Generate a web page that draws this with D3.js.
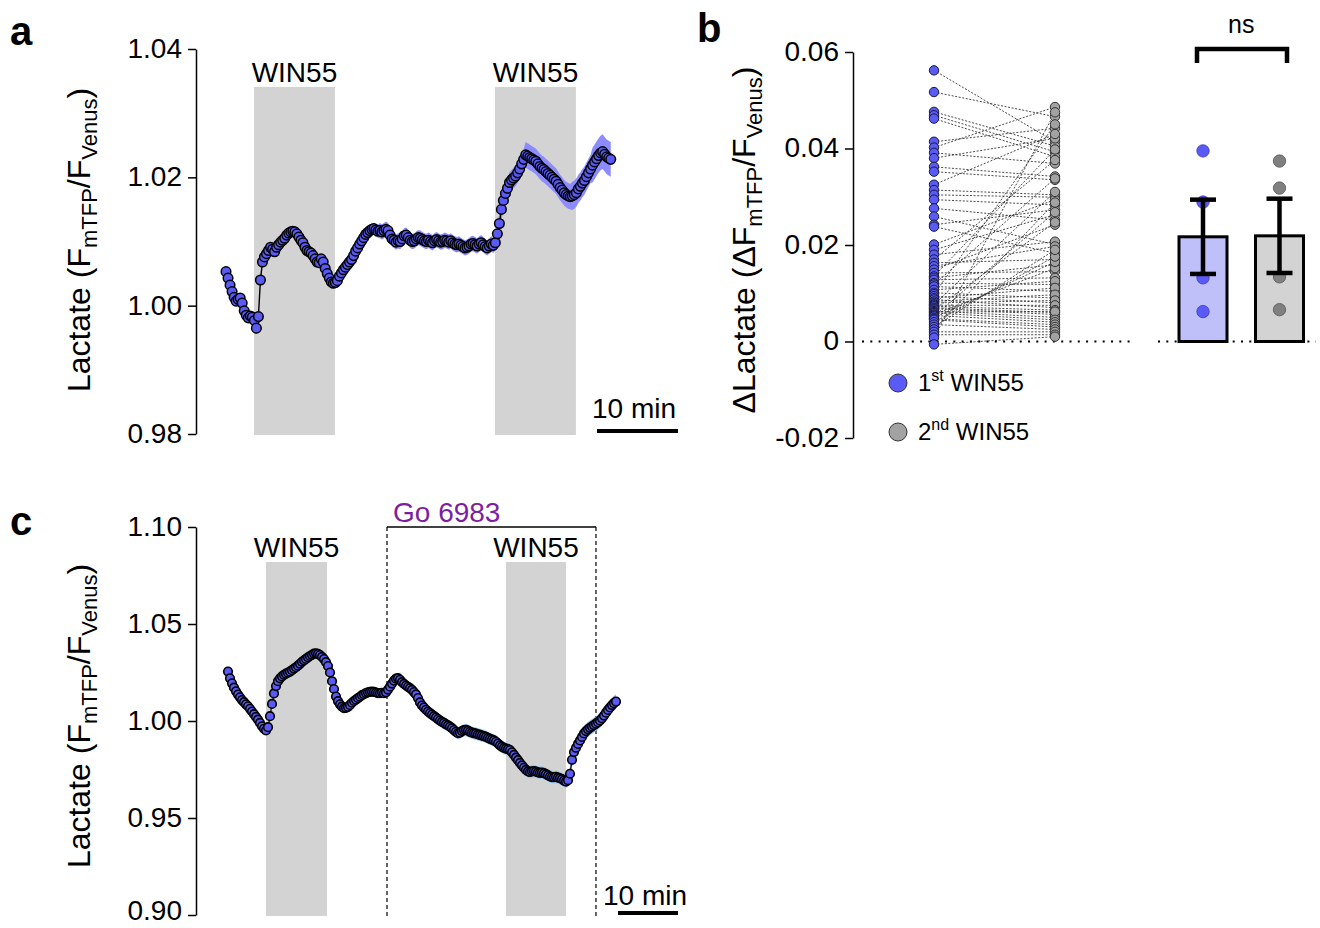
<!DOCTYPE html>
<html><head><meta charset="utf-8">
<script src="https://cdn.jsdelivr.net/npm/d3@7"></script>
<style>
body{margin:0;background:#fff}
svg{font-family:"Liberation Sans",Arial,Helvetica,sans-serif}
</style></head><body>
<svg id="chart" width="1320" height="928"></svg>
<script>
// ---------------- DATA ----------------
// Panel a: lactate ratio trace, one sample every 0.25 min
const dtA = 0.25;
const lactateA = [
1.0053,1.0043,1.0032,1.0022,1.0013,1.0007,1.0010,1.0012,1.0004,0.9992,
0.9985,0.9981,0.9984,0.9982,0.9977,0.9965,0.9983,1.0040,1.0068,1.0076,
1.0081,1.0086,1.0091,1.0088,1.0084,1.0091,1.0095,1.0099,1.0102,1.0105,
1.0110,1.0113,1.0115,1.0116,1.0115,1.0112,1.0107,1.0102,1.0098,1.0091,
1.0086,1.0084,1.0082,1.0078,1.0073,1.0068,1.0067,1.0073,1.0068,1.0058,
1.0050,1.0043,1.0037,1.0035,1.0036,1.0039,1.0046,1.0051,1.0056,1.0060,
1.0064,1.0068,1.0072,1.0078,1.0085,1.0090,1.0096,1.0101,1.0106,1.0111,
1.0114,1.0117,1.0119,1.0120,1.0118,1.0116,1.0117,1.0115,1.0117,1.0119,
1.0117,1.0110,1.0104,1.0102,1.0099,1.0101,1.0100,1.0104,1.0109,1.0110,
1.0106,1.0102,1.0100,1.0101,1.0104,1.0106,1.0105,1.0103,1.0101,1.0100,
1.0102,1.0100,1.0098,1.0101,1.0103,1.0101,1.0099,1.0100,1.0102,1.0101,
1.0099,1.0101,1.0098,1.0096,1.0095,1.0096,1.0094,1.0092,1.0090,1.0091,
1.0093,1.0096,1.0097,1.0095,1.0093,1.0096,1.0098,1.0095,1.0092,1.0090,
1.0093,1.0096,1.0094,1.0098,1.0112,1.0128,1.0150,1.0164,1.0175,1.0183,
1.0192,1.0196,1.0199,1.0202,1.0207,1.0213,1.0221,1.0228,1.0235,1.0233,
1.0231,1.0229,1.0227,1.0225,1.0221,1.0217,1.0214,1.0212,1.0209,1.0206,
1.0203,1.0200,1.0197,1.0194,1.0189,1.0184,1.0180,1.0176,1.0173,1.0171,
1.0170,1.0171,1.0173,1.0176,1.0182,1.0186,1.0191,1.0195,1.0201,1.0207,
1.0213,1.0219,1.0224,1.0229,1.0234,1.0238,1.0240,1.0236,1.0232,1.0230,1.0228
];
// SEM of panel a trace, in units of 1e-4
const semA_e4 = [
2,2,2,2,2,2,2,2,2,2, 2,2,2,2,2,2,2,2,2,2, 2,2,2,2,2,2,2,2,2,2,
2,2,2,2,2,2,2,2,2,2, 2,2,2,2,2,2,2,2,2,2, 2,2,2,2,2,2,5,5,5,5,
5,5,5,5,6,6,8,8,8,8, 8,8,9,9,9,10,12,12,12,12,
12,12,12,12,12,12,12,12,12,12, 12,12,12,12,12,12,12,12,12,12,
12,12,12,12,12,12,12,12,12,12, 12,12,12,12,12,12,12,12,12,12,
12,12,12,12,12,12,12,12,12,12, 12,12,12,12,16,16,16,16,16,16,
16,16,16,16,16,16,16,16,20,20, 20,20,20,20,20,20,20,20,20,20,
20,20,20,20,20,20,20,20,20,20, 20,22,22,22,22,22,22,22,22,22,
22,27,27,27,27,27,27,27,27,27,27
];
const winA = [[3.45, 13.45], [33.2, 43.2]];   // WIN55 applications (min)
const scaleBarA = [45.8, 55.8];                // 10 min
const ticksA = [0.98, 1.00, 1.02, 1.04];

// Panel b: paired responses
const groups = ["1st WIN55", "2nd WIN55"];
const deltaFirst = [
0.0562,0.0517,0.0476,0.0469,0.0462,0.0414,0.0402,0.0391,0.0380,0.0362,
0.0352,0.0325,0.0314,0.0304,0.0294,0.0276,0.0259,0.0242,0.0238,0.0201,
0.0190,0.0180,0.0170,0.0163,0.0156,0.0149,0.0142,0.0135,0.0132,0.0128,
0.0121,0.0118,0.0114,0.0107,0.0101,0.0098,0.0094,0.0090,0.0087,0.0083,
0.0080,0.0077,0.0075,0.0073,0.0070,0.0068,0.0066,0.0063,0.0061,0.0059,
0.0056,0.0054,0.0052,0.0049,0.0047,0.0045,0.0040,0.0035,0.0030,0.0025,
0.0020,0.0014,0.0008,-0.0006
];
const deltaSecond = [
0.0414,0.0466,0.0405,0.0393,0.0383,0.0442,0.0486,0.0369,0.0421,0.0342,
0.0335,0.0430,0.0304,0.0299,0.0283,0.0252,0.0201,0.0273,0.0183,0.0294,
0.0263,0.0207,0.0376,0.0170,0.0197,0.0242,0.0145,0.0398,0.0159,0.0132,
0.0118,0.0338,0.0104,0.0125,0.0090,0.0450,0.0080,0.0111,0.0070,0.0097,
0.0085,0.0310,0.0075,0.0065,0.0060,0.0056,0.0247,0.0050,0.0062,0.0045,
0.0152,0.0040,0.0268,0.0165,0.0035,0.0030,0.0176,0.0025,0.0190,0.0288,
0.0020,0.0014,0.0475,0.0010
];
const expFirst = [0.0395, 0.0289, 0.0132, 0.0062];
const expSecond = [0.0374, 0.0318, 0.0134, 0.0066];
const barMeans = [0.0217, 0.0219];
const barSems = [0.0077, 0.0077];
const ticksB = [-0.02, 0, 0.02, 0.04, 0.06];
const sigLabel = "ns";

// Panel c: lactate ratio trace, one sample every 1/3 min
const dtC = 1 / 3;
const lactateC = [
1.0255,1.0220,1.0194,1.0172,1.0153,1.0136,1.0122,1.0108,1.0097,1.0086,
1.0076,1.0063,1.0049,1.0035,1.0021,1.0007,0.9990,0.9973,0.9960,0.9951,
0.9968,1.0025,1.0088,1.0142,1.0180,1.0205,1.0220,1.0230,1.0238,1.0244,
1.0249,1.0254,1.0262,1.0270,1.0277,1.0285,1.0295,1.0305,1.0313,1.0320,
1.0328,1.0335,1.0341,1.0347,1.0349,1.0346,1.0340,1.0330,1.0319,1.0303,
1.0283,1.0250,1.0205,1.0165,1.0126,1.0102,1.0086,1.0074,1.0066,1.0068,
1.0073,1.0083,1.0094,1.0103,1.0110,1.0118,1.0125,1.0133,1.0138,1.0144,
1.0148,1.0150,1.0151,1.0150,1.0147,1.0144,1.0143,1.0145,1.0143,1.0148,
1.0162,1.0177,1.0193,1.0208,1.0218,1.0221,1.0212,1.0200,1.0191,1.0183,
1.0176,1.0169,1.0160,1.0149,1.0137,1.0118,1.0096,1.0080,1.0069,1.0058,
1.0049,1.0041,1.0033,1.0025,1.0018,1.0010,1.0002,0.9995,0.9990,0.9983,
0.9977,0.9971,0.9963,0.9953,0.9944,0.9937,0.9940,0.9948,0.9953,0.9954,
0.9950,0.9944,0.9940,0.9937,0.9935,0.9931,0.9928,0.9925,0.9922,0.9918,
0.9913,0.9908,0.9904,0.9900,0.9893,0.9884,0.9874,0.9867,0.9861,0.9858,
0.9855,0.9850,0.9839,0.9825,0.9811,0.9798,0.9784,0.9771,0.9759,0.9748,
0.9740,0.9737,0.9741,0.9742,0.9739,0.9735,0.9733,0.9734,0.9731,0.9726,
0.9720,0.9714,0.9711,0.9710,0.9712,0.9708,0.9705,0.9700,0.9693,0.9688,
0.9695,0.9728,0.9800,0.9840,0.9862,0.9882,0.9900,0.9918,0.9936,0.9948,
0.9957,0.9965,0.9972,0.9979,0.9986,0.9994,1.0003,1.0014,1.0028,1.0043,
1.0057,1.0070,1.0082,1.0092,1.0100
];
const semC_e4 = [
15,15,15,15,15,15,15,15,15,15, 15,15,15,15,15,15,15,15,15,15,
15,15,15,15,15,15,15,15,15,15, 15,15,15,15,15,15,15,15,15,15,
15,15,15,15,15,15,15,15,15,15, 15,15,15,15,15,15,15,15,15,15,
15,15,15,15,15,15,15,15,15,15, 15,15,15,15,15,15,15,15,15,15,
15,15,15,15,15,15,15,15,15,15, 15,32,32,32,32,32,32,32,32,32,
32,32,32,32,32,32,32,32,32,32, 32,32,32,32,32,32,32,32,32,32,
32,32,32,32,32,32,32,32,32,32, 32,32,32,32,32,32,32,32,32,32,
32,32,32,32,32,32,32,32,32,32, 32,32,32,32,32,32,32,32,32,32,
32,32,32,32,32,32,32,32,32,32, 32,38,38,38,38,38,38,38,38,38,
38,38,38,38,38,38,38,38,38,38, 38,38,38,38,38
];
const winC = [[6.33, 16.5], [46.33, 56.33]];
const drugC = [26.5, 61.33];
const drugLabel = "Go 6983";
const scaleBarC = [65, 75];
const ticksC = [0.90, 0.95, 1.00, 1.05, 1.10];

// ---------------- STYLE ----------------
const FONT = '"Liberation Sans", Arial, Helvetica, sans-serif';
const BLUE = "#5a5af5", BAND_A = "#8c8cff", BAND_C = "#93c6f6";
const SHADE = "#d3d3d3", GREY_PT = "#a2a2a2", BAR_BLUE = "#bfbffa", BAR_GREY = "#d3d3d3";
const PURPLE = "#7b1fa2";

const svg = d3.select("#chart");

function drawAxis(scale, x, ticks, fmt) {
  const ax = d3.axisLeft(scale).tickValues(ticks).tickFormat(fmt)
    .tickSize(8).tickSizeOuter(0).tickPadding(6);
  const a = svg.append("g").attr("transform", `translate(${x},0)`).call(ax)
    .attr("font-size", 28).attr("font-family", FONT);
  a.select(".domain").attr("stroke", "#000").attr("stroke-width", 1.5);
  a.selectAll(".tick line").attr("stroke", "#000").attr("stroke-width", 1.5);
  // keep the lowest label inside the page
  a.selectAll(".tick text").attr("fill", "#000")
    .attr("dy", d => scale(d) > 905 ? "0.16em" : "0.3em");
  return a;
}
function yLabel(x, y, parts) {
  const t = svg.append("text").attr("transform", `translate(${x},${y}) rotate(-90)`)
    .attr("text-anchor", "middle").attr("font-size", 32).attr("fill", "#000");
  let low = false;
  parts.forEach(([s, sub]) => {
    const ts = t.append("tspan").text(s);
    if (sub) { ts.attr("font-size", 22); if (!low) { ts.attr("dy", 7); low = true; } }
    else if (low) { ts.attr("dy", -7); low = false; }
  });
}
function label(x, y, s, size, opts = {}) {
  return svg.append("text").attr("x", x).attr("y", y).attr("font-size", size)
    .attr("fill", opts.fill || "#000").attr("font-weight", opts.bold ? "bold" : null)
    .attr("text-anchor", opts.anchor || "start").text(s);
}
function trace(data, sem_e4, dt, xs, ys, r, bandColor, lineW, sw) {
  const pts = data.map((v, i) => ({ t: i * dt, v, s: sem_e4[i] * 1e-4 }));
  svg.append("path").datum(pts).attr("fill", bandColor)
    .attr("d", d3.area().x(d => xs(d.t)).y0(d => ys(d.v - d.s)).y1(d => ys(d.v + d.s)));
  svg.append("path").datum(pts).attr("fill", "none").attr("stroke", "#000").attr("stroke-width", lineW)
    .attr("d", d3.line().x(d => xs(d.t)).y(d => ys(d.v)));
  svg.append("g").selectAll("circle").data(pts).join("circle")
    .attr("cx", d => xs(d.t)).attr("cy", d => ys(d.v)).attr("r", r)
    .attr("fill", BLUE).attr("stroke", "#000").attr("stroke-width", sw);
}

// ---------------- PANEL A ----------------
const xA = d3.scaleLinear().domain([0, 50]).range([226, 631]);
const yA = d3.scaleLinear().domain([0.98, 1.04]).range([434, 49]);
winA.forEach(w => {
  svg.append("rect").attr("x", xA(w[0])).attr("width", xA(w[1]) - xA(w[0]))
    .attr("y", 87).attr("height", 435 - 87).attr("fill", SHADE);
  label((xA(w[0]) + xA(w[1])) / 2, 82, "WIN55", 28, { anchor: "middle" });
});
trace(lactateA, semA_e4, dtA, xA, yA, 4.8, BAND_A, 1.4, 1.5);
drawAxis(yA, 196, ticksA, d3.format(".2f"));
yLabel(90, 240, [["Lactate (F", 0], ["mTFP", 1], ["/F", 0], ["Venus", 1], [")", 0]]);
svg.append("line").attr("x1", xA(scaleBarA[0])).attr("x2", xA(scaleBarA[1]))
  .attr("y1", 431).attr("y2", 431).attr("stroke", "#000").attr("stroke-width", 4);
label(592, 418, "10 min", 28);
label(10, 45, "a", 40, { bold: true });

// ---------------- PANEL B ----------------
const yB = d3.scaleLinear().domain([-0.02, 0.06]).range([438, 52]);
const xPair = d3.scalePoint().domain(groups).range([934, 1055]);
const xBar = d3.scalePoint().domain(groups).range([1203, 1279.5]);
drawAxis(yB, 853, ticksB, d => d === 0 ? "0" : d.toFixed(2));
yLabel(755, 240, [["ΔLactate (ΔF", 0], ["mTFP", 1], ["/F", 0], ["Venus", 1], [")", 0]]);
label(697, 42, "b", 40, { bold: true });

// zero reference lines
[[862, 1133], [1158, 1316]].forEach(([a, b]) => {
  svg.append("line").attr("x1", a).attr("x2", b).attr("y1", yB(0)).attr("y2", yB(0))
    .attr("stroke", "#000").attr("stroke-width", 2).attr("stroke-dasharray", "2,6.3");
});
// paired lines
svg.append("g").selectAll("line").data(deltaFirst).join("line")
  .attr("x1", xPair(groups[0])).attr("x2", xPair(groups[1]))
  .attr("y1", d => yB(d)).attr("y2", (d, i) => yB(deltaSecond[i]))
  .attr("stroke", "#2a2a2a").attr("stroke-width", 0.85).attr("stroke-dasharray", "2,1.6");
svg.append("g").selectAll("circle").data(deltaFirst).join("circle")
  .attr("cx", xPair(groups[0])).attr("cy", d => yB(d)).attr("r", 4.7)
  .attr("fill", BLUE).attr("stroke", "#1a1a40").attr("stroke-width", 1);
svg.append("g").selectAll("circle").data(deltaSecond).join("circle")
  .attr("cx", xPair(groups[1])).attr("cy", d => yB(d)).attr("r", 4.7)
  .attr("fill", GREY_PT).attr("stroke", "#333").attr("stroke-width", 1);

// bars
const barFill = [BAR_BLUE, BAR_GREY], ptFill = [BLUE, "#808080"], exps = [expFirst, expSecond];
groups.forEach((g, k) => {
  const cx = xBar(g);
  svg.append("rect").attr("x", cx - 24).attr("width", 48)
    .attr("y", yB(barMeans[k])).attr("height", yB(0) - yB(barMeans[k]))
    .attr("fill", barFill[k]).attr("stroke", "#000").attr("stroke-width", 3);
  svg.append("g").selectAll("circle").data(exps[k]).join("circle")
    .attr("cx", cx).attr("cy", d => yB(d)).attr("r", 6.2)
    .attr("fill", ptFill[k]).attr("stroke", k === 0 ? "#3b3bb0" : "#555").attr("stroke-width", 0.8);
  const hi = yB(barMeans[k] + barSems[k]), lo = yB(barMeans[k] - barSems[k]);
  svg.append("line").attr("x1", cx).attr("x2", cx).attr("y1", hi).attr("y2", lo)
    .attr("stroke", "#000").attr("stroke-width", 4.5);
  [hi, lo].forEach(yy => svg.append("line").attr("x1", cx - 13).attr("x2", cx + 13)
    .attr("y1", yy).attr("y2", yy).attr("stroke", "#000").attr("stroke-width", 4.5));
});
svg.append("path").attr("d", `M${xBar(groups[0]) - 6},63V49H${xBar(groups[1]) + 7.5}V63`)
  .attr("fill", "none").attr("stroke", "#000").attr("stroke-width", 4.5);
label((xBar(groups[0]) + xBar(groups[1])) / 2, 33, sigLabel, 25, { anchor: "middle" });

// legend
[[383, BLUE, "1", "st"], [432, GREY_PT, "2", "nd"]].forEach(([yy, col, n, sup]) => {
  svg.append("circle").attr("cx", 898).attr("cy", yy).attr("r", 9)
    .attr("fill", col).attr("stroke", "#333").attr("stroke-width", 1);
  const t = svg.append("text").attr("x", 918).attr("y", yy + 8).attr("font-size", 24).attr("fill", "#000");
  t.append("tspan").text(n);
  t.append("tspan").attr("font-size", 16).attr("dy", -10).text(sup);
  t.append("tspan").attr("dy", 10).text(" WIN55");
});

// ---------------- PANEL C ----------------
const xC = d3.scaleLinear().domain([0, 10]).range([228, 288]);
const yC = d3.scaleLinear().domain([0.90, 1.10]).range([915, 527]);
winC.forEach(w => {
  svg.append("rect").attr("x", xC(w[0])).attr("width", xC(w[1]) - xC(w[0]))
    .attr("y", 562).attr("height", 916 - 562).attr("fill", SHADE);
  label((xC(w[0]) + xC(w[1])) / 2, 557, "WIN55", 28, { anchor: "middle" });
});
drugC.forEach(t => svg.append("line").attr("x1", xC(t)).attr("x2", xC(t))
  .attr("y1", 527).attr("y2", 918).attr("stroke", "#000").attr("stroke-width", 1.2)
  .attr("stroke-dasharray", "4,3"));
svg.append("line").attr("x1", xC(drugC[0])).attr("x2", xC(drugC[1]))
  .attr("y1", 527).attr("y2", 527).attr("stroke", "#000").attr("stroke-width", 1.6);
label(393, 522, drugLabel, 28, { fill: PURPLE });
trace(lactateC, semC_e4, dtC, xC, yC, 4.3, BAND_C, 1.2, 1.6);
drawAxis(yC, 196, ticksC, d3.format(".2f"));
yLabel(90, 716, [["Lactate (F", 0], ["mTFP", 1], ["/F", 0], ["Venus", 1], [")", 0]]);
svg.append("line").attr("x1", xC(scaleBarC[0])).attr("x2", xC(scaleBarC[1]))
  .attr("y1", 913).attr("y2", 913).attr("stroke", "#000").attr("stroke-width", 4);
label(603, 905, "10 min", 28);
label(10, 535, "c", 40, { bold: true });
</script>
</body></html>
